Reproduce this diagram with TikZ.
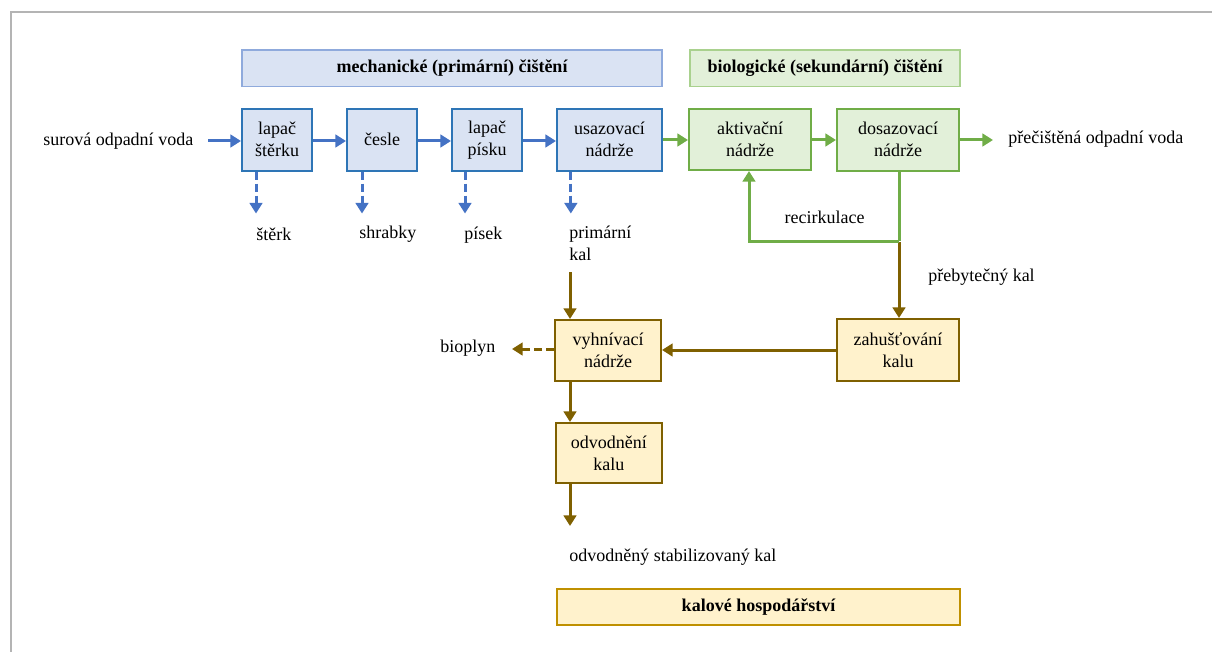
\documentclass[tikz,border=0pt]{standalone}
\usepackage{fontspec}
\setmainfont{Liberation Serif}
\usetikzlibrary{arrows.meta,calc}
\definecolor{bl}{HTML}{4472C4}
\definecolor{blb}{HTML}{2E75B6}
\definecolor{blf}{HTML}{DAE3F3}
\definecolor{blh}{HTML}{8FAADC}
\definecolor{gr}{HTML}{70AD47}
\definecolor{grf}{HTML}{E2F0D9}
\definecolor{grh}{HTML}{A9D18E}
\definecolor{br}{HTML}{7F6000}
\definecolor{brf}{HTML}{FFF2CC}
\definecolor{brh}{HTML}{BF9000}
\definecolor{framegray}{HTML}{B4B4B4}
\begin{document}
\begin{tikzpicture}[x=0.75pt,y=-0.75pt,
  font=\fontsize{13.5}{16.5}\selectfont,
  box/.style={draw, line width=1.5pt, inner sep=0pt, align=center},
  hbox/.style={draw, line width=1.1pt, inner sep=0pt, align=center, font=\fontsize{13.5}{16.5}\selectfont\bfseries},
  bbox/.style={box, draw=blb, fill=blf},
  gbox/.style={box, draw=gr, fill=grf},
  ybox/.style={box, draw=br, fill=brf},
  lbl/.style={inner sep=0pt, text=black},
  arr/.style={line width=2.25pt, -{Triangle[length=8pt,width=9.5pt]}},
  dsh/.style={dash pattern=on 6pt off 3pt},
  barr/.style={arr, draw=bl},
  garr/.style={arr, draw=gr},
  brarr/.style={arr, draw=br},
  gline/.style={line width=2.25pt, draw=gr},
]
\useasboundingbox (0,0) rectangle (1212,652);
\draw[framegray, line width=1.1pt] (11,652) -- (11,12) -- (1212,12);

% headers
\node[hbox, draw=blh, fill=blf, minimum width=315pt, minimum height=27.4pt] (h1) at (452,68.3) {mechanické (primární) čištění};
\node[hbox, draw=grh, fill=grf, minimum width=202.5pt, minimum height=27.4pt] (h2) at (825,68.3) {biologické (sekundární) čištění};
\node[hbox, draw=brh, fill=brf, minimum width=302.25pt, minimum height=27pt] (h3) at (758.5,607) {kalové hospodářství};

% process boxes
\node[bbox, minimum width=52.5pt, minimum height=46.1pt] (b1) at (277,139.8) {lapač\\štěrku};
\node[bbox, minimum width=52.5pt, minimum height=46.1pt] (b2) at (382,139.8) {česle};
\node[bbox, minimum width=52.5pt, minimum height=46.1pt] (b3) at (487,139.8) {lapač\\písku};
\node[bbox, minimum width=78.75pt, minimum height=46.1pt] (b4) at (609.5,139.8) {usazovací\\nádrže};
\node[gbox, minimum width=91.5pt, minimum height=46.1pt] (g1) at (750,139.3) {aktivační\\nádrže};
\node[gbox, minimum width=91.5pt, minimum height=46.1pt] (g2) at (898,139.8) {dosazovací\\nádrže};
\node[ybox, minimum width=79.5pt, minimum height=46.1pt] (y1) at (608,350.7) {vyhnívací\\nádrže};
\node[ybox, minimum width=91.5pt, minimum height=46.5pt] (y2) at (898,350) {zahušťování\\kalu};
\node[ybox, minimum width=79.1pt, minimum height=45pt] (y3) at (608.8,453) {odvodnění\\kalu};

% labels
\node[lbl, anchor=west] (tin) at (43,141) {surová odpadní voda};
\node[lbl, anchor=west] (tout) at (1008,139) {přečištěná odpadní voda};
\node[lbl, anchor=west] (t1) at (256,234) {štěrk};
\node[lbl, anchor=west] (t2) at (359,234) {shrabky};
\node[lbl, anchor=west] (t3) at (464,235) {písek};
\node[lbl, anchor=west, align=left] (t4) at (569,243) {primární\\kal};
\node[lbl] (trec) at (824.5,217) {recirkulace};
\node[lbl, anchor=west] (tpk) at (928,277) {přebytečný kal};
\node[lbl, anchor=west] (tbio) at (440,348) {bioplyn};
\node[lbl, anchor=west] (tsk) at (569,557) {odvodněný stabilizovaný kal};

% coordinates
\coordinate (inS) at (208,141);
\coordinate (outE) at (993,140);
\coordinate (j) at (899,241);
\coordinate (pk) at (570,272);
\coordinate (bioE) at (512,349);
\coordinate (endK) at (570,526);

% blue main flow
\draw[barr] (inS) -- (b1.west |- inS);
\draw[barr] (b1.east |- inS) -- (b2.west |- inS);
\draw[barr] (b2.east |- inS) -- (b3.west |- inS);
\draw[barr] (b3.east |- inS) -- (b4.west |- inS);
% dashed outputs
\draw[barr, dsh] ([xshift=-15.75pt]b1.south) -- ++(0,42);
\draw[barr, dsh] ([xshift=-15pt]b2.south) -- ++(0,42);
\draw[barr, dsh] ([xshift=-16.5pt]b3.south) -- ++(0,42);
\draw[barr, dsh] ([xshift=-29pt]b4.south) -- ++(0,42);

% green flow
\draw[garr] (b4.east |- outE) -- (g1.west |- outE);
\draw[garr] (g1.east |- outE) -- (g2.west |- outE);
\draw[garr] (g2.east |- outE) -- (outE);

% brown excess sludge
\draw[brarr] ([yshift=-1pt]j) -- (y2.north -| j);
% recirculation
\draw[gline] (g2.south -| j) -- (j);
\draw[garr] (j) -| ([xshift=-0.75pt]g1.south);

% sludge line
\draw[brarr] (pk) -- (y1.north -| pk);
\draw[brarr] (y2.west) -- (y1.east |- y2.west);
\draw[brarr, dsh] (y1.west |- bioE) -- (bioE);
\draw[brarr] (y1.south -| pk) -- (y3.north -| pk);
\draw[brarr] (y3.south -| pk) -- (endK);
\end{tikzpicture}
\end{document}
